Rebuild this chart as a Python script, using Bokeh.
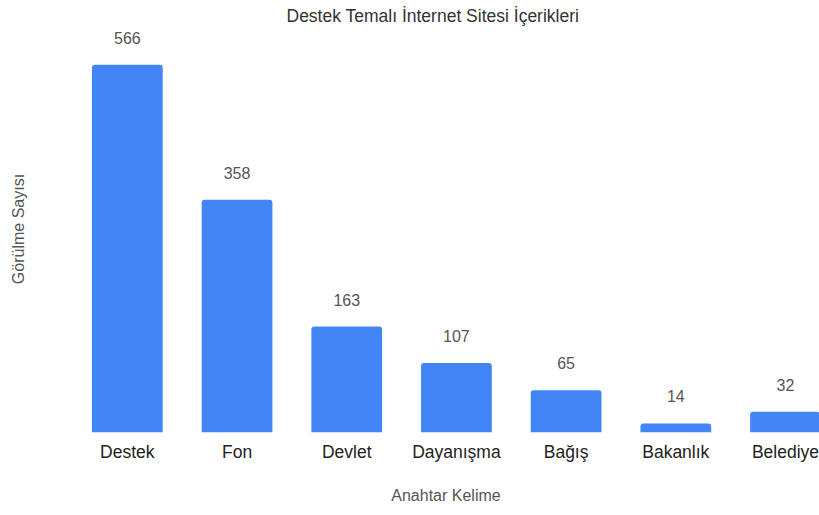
from bokeh.plotting import figure
from bokeh.models import ColumnDataSource, Range1d, FixedTicker, LabelSet
from bokeh.core.properties import value
from bokeh.embed import file_html
from bokeh.resources import INLINE

categories = ["Destek", "Fon", "Devlet", "Dayanışma", "Bağış", "Bakanlık", "Belediye"]
counts = [566, 358, 163, 107, 65, 14, 32]

xs = list(range(len(categories)))
src = ColumnDataSource(dict(x=xs, top=counts, label=[str(c) for c in counts]))

FONT = "Liberation Sans"

p = figure(width=819, height=515, output_backend="svg", toolbar_location=None,
           x_range=Range1d(-0.5, 6.31), y_range=Range1d(0, 626.2),
           min_border_left=72, min_border_right=0, min_border_top=25, min_border_bottom=83)

p.title.text = "Destek Temalı İnternet Sitesi İçerikleri"
p.title.text_font = FONT
p.title.text_font_size = "17.5px"
p.title.text_font_style = "normal"
p.title.text_color = "#333333"
p.title.text_line_height = 0.8
p.title.align = "left"
p.title.offset = 214
p.title.standoff = 0

p.vbar(x="x", top="top", bottom=0, width=0.645, source=src,
       fill_color="#4285F4", line_color=None, border_radius=(3, 3, 0, 0))

labels = LabelSet(x="x", y="top", text="label", source=src, y_offset=27,
                  text_align="center", text_baseline="middle",
                  text_font=value(FONT), text_font_size=value("16px"), text_color="#555555")
p.add_layout(labels)

p.xaxis.ticker = FixedTicker(ticks=xs)
p.xaxis.major_label_overrides = {i: c for i, c in zip(xs, categories)}
p.xaxis.axis_label = "Anahtar Kelime"
p.yaxis.axis_label = "Görülme Sayısı"
p.yaxis.ticker = FixedTicker(ticks=[])

for ax in (p.xaxis[0], p.yaxis[0]):
    ax.axis_line_color = None
    ax.major_tick_line_color = None
    ax.minor_tick_line_color = None
    ax.axis_label_text_font = FONT
    ax.axis_label_text_font_size = "16px"
    ax.axis_label_text_font_style = "normal"
    ax.axis_label_text_color = "#555555"

p.xaxis.major_label_text_font = FONT
p.xaxis.major_label_text_font_size = "17.5px"
p.xaxis.major_label_text_color = "#222222"
p.xaxis.major_label_standoff = 3
p.xaxis.axis_label_standoff = 22
p.yaxis.axis_label_standoff = 46

p.xgrid.grid_line_color = None
p.ygrid.grid_line_color = None
p.outline_line_color = None
p.background_fill_color = "white"
p.border_fill_color = "white"

open("out.html", "w").write(file_html(p, INLINE))
